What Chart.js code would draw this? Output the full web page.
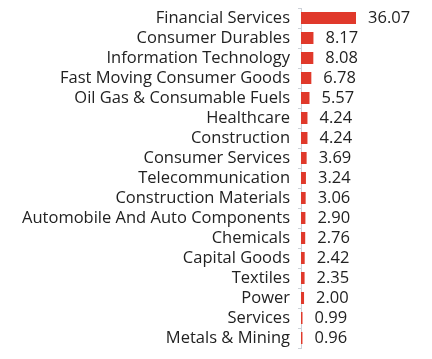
<!DOCTYPE html>
<html>
<head>
<meta charset="utf-8">
<script src="https://cdn.jsdelivr.net/npm/chart.js@4.4.0/dist/chart.umd.min.js"></script>
<style>
  html, body { margin: 0; padding: 0; background: #fff; }
  #wrap { width: 432px; height: 359px; }
</style>
</head>
<body>
<div id="wrap"><canvas id="myChart"></canvas></div>
<script>
var sectors = ['Financial Services', 'Consumer Durables', 'Information Technology',
  'Fast Moving Consumer Goods', 'Oil Gas & Consumable Fuels', 'Healthcare', 'Construction',
  'Consumer Services', 'Telecommunication', 'Construction Materials',
  'Automobile And Auto Components', 'Chemicals', 'Capital Goods', 'Textiles', 'Power',
  'Services', 'Metals & Mining'];
var weights = [36.07, 8.17, 8.08, 6.78, 5.57, 4.24, 4.24, 3.69, 3.24, 3.06, 2.90, 2.76,
  2.42, 2.35, 2.00, 0.99, 0.96];

var fontFamily = "'Open Sans', sans-serif";
var fontSize = 16.5;

// value labels to the right of each bar
var valueLabels = {
  id: 'valueLabels',
  afterDatasetsDraw: function(chart) {
    var ctx = chart.ctx;
    var meta = chart.getDatasetMeta(0);
    ctx.save();
    ctx.font = fontSize + 'px ' + fontFamily;
    ctx.fillStyle = '#222';
    ctx.textAlign = 'left';
    ctx.textBaseline = 'middle';
    meta.data.forEach(function(bar, i) {
      ctx.fillText(weights[i].toFixed(2), bar.x + 12, bar.y);
    });
    ctx.restore();
  }
};

var ctx = document.getElementById('myChart').getContext('2d');
var myChart = new Chart(ctx, {
  type: 'bar',
  data: {
    labels: sectors,
    datasets: [{
      data: weights,
      backgroundColor: '#e0392b',
      barPercentage: 0.6,
      categoryPercentage: 1
    }]
  },
  options: {
    indexAxis: 'y',
    responsive: true,
    maintainAspectRatio: false,
    animation: false,
    layout: { padding: { top: 8, bottom: 11, left: 0, right: 9 } },
    plugins: { legend: { display: false }, tooltip: { enabled: false } },
    scales: {
      x: { display: false, min: 0, max: 80 },
      y: {
        afterFit: function(scale) {
          scale.width = 301;
          scale.paddingTop = 0;
          scale.paddingBottom = 0;
        },
        border: { display: true, color: '#cdd1d8', width: 1 },
        grid: { drawOnChartArea: false, drawTicks: true, tickLength: 3, color: '#cdd1d8' },
        ticks: { color: '#222', padding: 8, autoSkip: false, font: { family: fontFamily, size: fontSize } }
      }
    }
  },
  plugins: [valueLabels]
});
</script>
</body>
</html>
